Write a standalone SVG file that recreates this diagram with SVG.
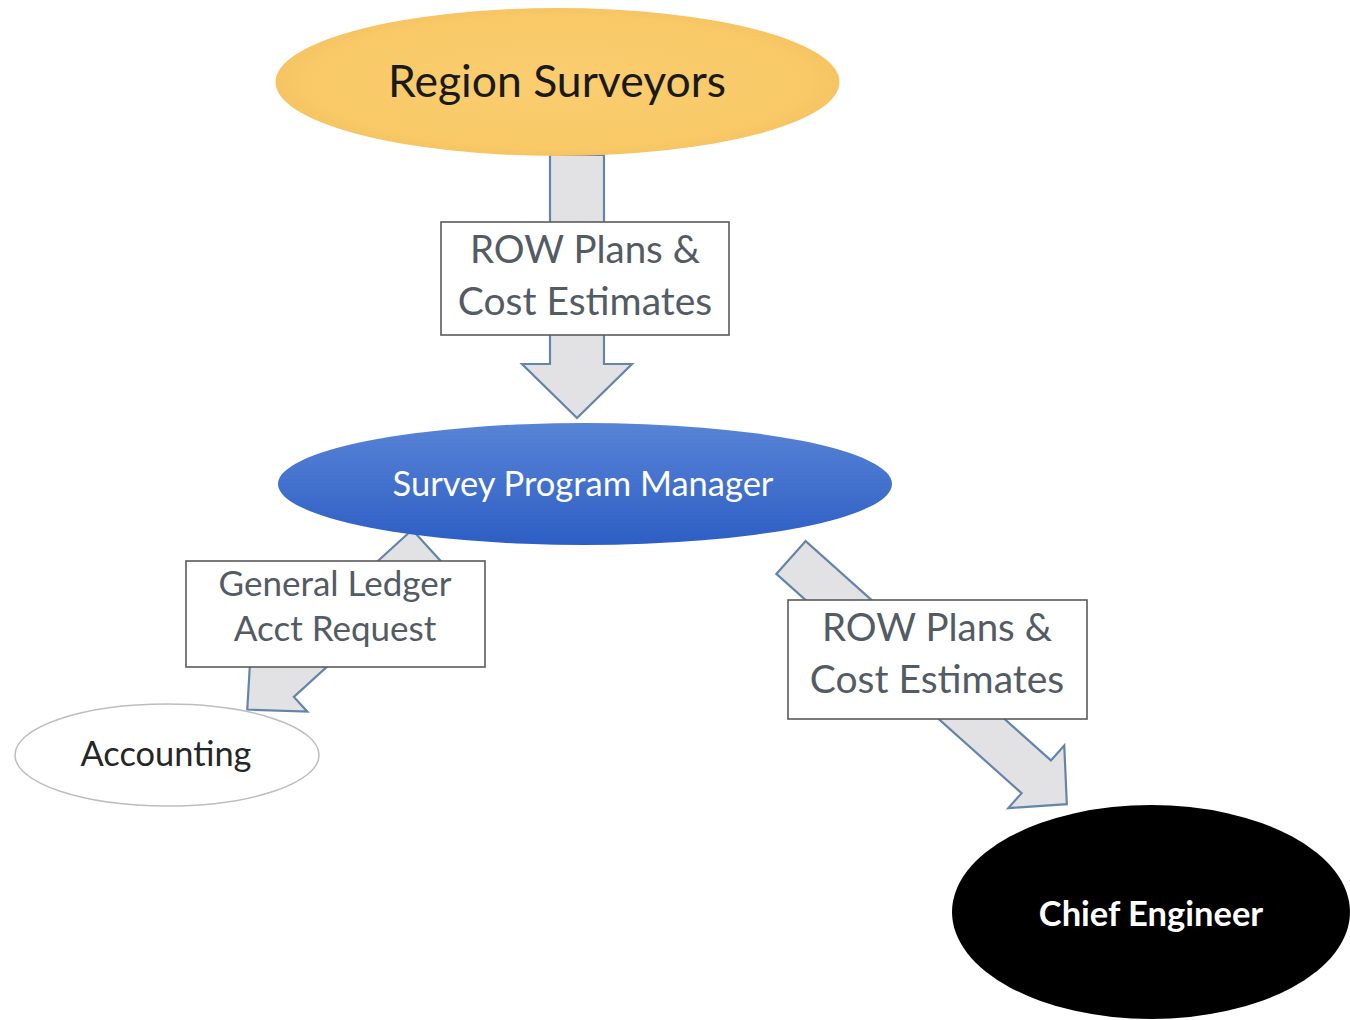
<svg xmlns="http://www.w3.org/2000/svg" width="1350" height="1020" viewBox="0 0 1350 1020">
  <defs>
    <linearGradient id="blueGrad" x1="0" y1="0" x2="0" y2="1">
      <stop offset="0" stop-color="#5884d6"/>
      <stop offset="1" stop-color="#2d5ec4"/>
    </linearGradient>
    <radialGradient id="goldGrad" cx="0.5" cy="0.5" r="0.5">
      <stop offset="0" stop-color="#fbcd70"/>
      <stop offset="0.9" stop-color="#f8c966"/>
      <stop offset="1" stop-color="#f6c463"/>
    </radialGradient>
    <style>
      .arrow { fill: #e2e2e4; stroke: #6585a8; stroke-width: 2.2; stroke-linejoin: miter; }
      .box { fill: #ffffff; stroke: #5a5a5a; stroke-width: 1.6; }
      .lbl { font-family: Lato, "Liberation Sans", sans-serif; fill: #535b64; text-anchor: middle; }
      .node { font-family: Lato, "Liberation Sans", sans-serif; text-anchor: middle; }
    </style>
  </defs>
  <rect width="1350" height="1020" fill="#ffffff"/>

  <g id="connectors">
    <polygon class="arrow" points="550,155 604,155 604,364 632,364 577,418 522,364 550,364"/>
    <polygon class="arrow" transform="translate(427,546) rotate(137.7)" points="0,-22 200,-22 200,-42 243,0 200,42 200,22 0,22"/>
    <polygon class="arrow" transform="translate(791,557.5) rotate(41.8)" points="0,-22 329,-22 329,-42 370,0 329,42 329,22 0,22"/>
  </g>

  <g id="region-surveyors">
    <ellipse cx="557.5" cy="82" rx="282" ry="74" fill="url(#goldGrad)"/>
    <text class="node" x="557" y="97" font-size="44.5" fill="#1a1a1a">Region Surveyors</text>
  </g>

  <g id="survey-program-manager">
    <ellipse cx="585" cy="484" rx="307" ry="61" fill="url(#blueGrad)"/>
    <text class="node" x="583" y="496" font-size="34.5" fill="#ffffff">Survey Program Manager</text>
  </g>

  <g id="accounting">
    <ellipse cx="167" cy="755" rx="152" ry="51" fill="#ffffff" stroke="#bdbdbd" stroke-width="1.5"/>
    <text class="node" x="166" y="766" font-size="34.4" fill="#262626">Accounting</text>
  </g>

  <g id="chief-engineer">
    <ellipse cx="1151" cy="912" rx="199" ry="107" fill="#000000"/>
    <text class="node" x="1151" y="926" font-size="34.5" font-weight="bold" fill="#ffffff">Chief Engineer</text>
  </g>

  <g id="label-row-1">
    <rect class="box" x="441" y="222" width="288" height="113"/>
    <text class="lbl" x="585" y="263" font-size="38.5">ROW Plans &amp;</text>
    <text class="lbl" x="585" y="315" font-size="39">Cost Estimates</text>
  </g>

  <g id="label-gl">
    <rect class="box" x="186" y="561" width="299" height="106"/>
    <text class="lbl" x="335" y="596" font-size="35">General Ledger</text>
    <text class="lbl" x="335" y="641" font-size="35">Acct Request</text>
  </g>

  <g id="label-row-2">
    <rect class="box" x="788" y="600" width="299" height="119"/>
    <text class="lbl" x="937" y="641" font-size="38.5">ROW Plans &amp;</text>
    <text class="lbl" x="937" y="693" font-size="39">Cost Estimates</text>
  </g>
</svg>
